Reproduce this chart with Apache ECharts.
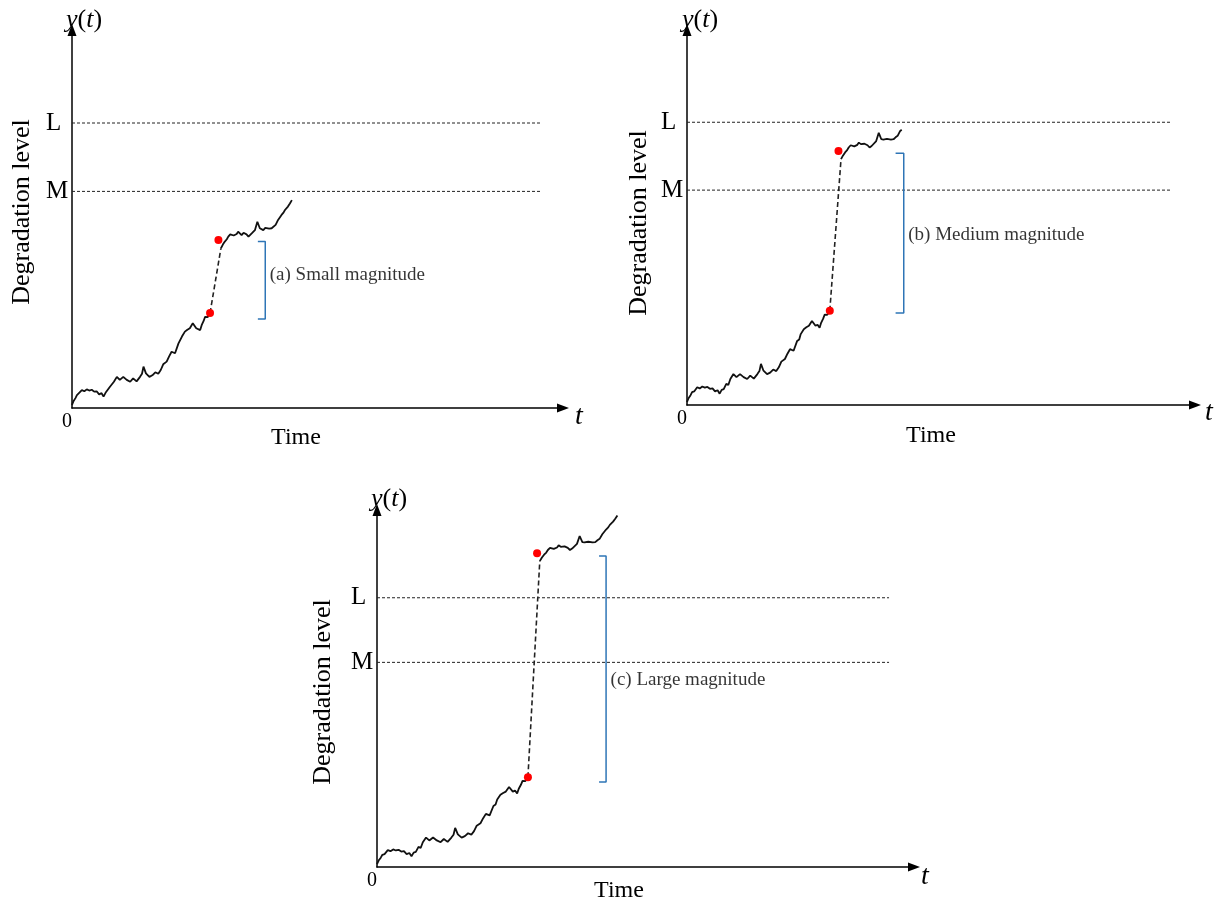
<!DOCTYPE html>
<html>
<head>
<meta charset="utf-8">
<title>Degradation level with jumps</title>
<script src="https://cdn.jsdelivr.net/npm/echarts@6/dist/echarts.min.js"></script>
<style>
  html, body { margin: 0; padding: 0; background: #fff; }
  #chart { width: 1217px; height: 903px; }
</style>
</head>
<body>
<div id="chart"></div>
<script>
// threshold levels (y) and their names
var levelValues = [57, 75]
var levelNames = ['M', 'L']
var levelEnd = 95

// degradation path before the jump (same in all panels)
var preX = [0.0, 0.3, 0.7, 1.0, 1.4, 2.0, 2.5, 3.0, 3.5, 4.0, 4.5, 5.0, 5.5, 6.0, 6.4, 6.8, 7.2, 7.7, 8.1, 8.5,
  9.1, 9.7, 10.4, 11.1, 11.4, 11.8, 12.4, 13.1, 13.8, 14.2, 14.5, 15.0, 15.7, 16.3, 16.9, 17.5, 18.0, 18.5, 19.2, 19.7,
  20.2, 20.9, 21.6, 22.0, 22.3, 22.9, 23.4, 23.9, 24.5, 25.2, 25.6, 26.0, 26.3, 26.7, 27.0, 27.5, 28.0]
var preY = [0.8, 1.8, 2.6, 3.4, 3.6, 4.7, 4.4, 4.9, 4.6, 4.8, 4.3, 4.4, 3.6, 3.9, 3.0, 4.0, 4.2, 5.6, 5.3, 6.9,
  8.2, 7.4, 8.2, 7.4, 7.9, 6.9, 7.8, 7.0, 8.2, 9.0, 10.9, 9.1, 8.2, 8.6, 9.4, 9.0, 10.0, 11.5, 12.2, 13.6,
  14.8, 14.4, 17.0, 17.4, 18.8, 20.1, 20.6, 21.0, 22.3, 21.0, 21.3, 20.5, 21.8, 22.9, 24.0, 23.9, 25.0]

// path after the jump, y measured from the top of the jump
var postX = [30.2, 30.6, 31.0, 31.4, 31.7, 32.1, 32.4, 32.8, 33.1, 33.4, 33.7, 34.1, 34.4, 34.8, 35.1, 35.4, 35.8,
  36.2, 36.5, 37.1, 37.6, 38.1, 38.5, 38.8, 39.2, 39.5, 40.0, 40.5, 40.9, 41.3, 41.8, 42.1, 42.5, 42.9, 43.2, 43.5, 43.8, 44.2, 44.6]
var postDy = [-2.2, -1.2, -0.4, 0.2, 0.9, 1.5, 1.8, 1.2, 0.9, 1.6, 2.2, 1.8, 1.3, 1.9, 2.2, 1.5, 0.9,
  1.3, 1.8, 2.6, 4.8, 3.1, 3.0, 2.6, 3.2, 3.5, 3.0, 3.1, 3.6, 4.0, 5.3, 5.6, 6.6, 7.2, 7.9, 8.2, 8.8, 9.6, 10.5]

// per panel values
var panelNames = ['(a) Small magnitude', '(b) Medium magnitude', '(c) Large magnitude']
var jumpFromX = 28.0
var jumpToX = 29.7
var jumpTop = [44.2, 67.4, 87.4]
var postEnd = [44.6, 42.4, 45.1]
var bracketX = [39.2, 42.5, 42.5]
var bracketLow = [23.4, 24.4, 23.7]
var bracketHigh = [43.8, 66.8, 86.6]
var labelY = [35.0, 45.1, 52.1]

// panel placement on the page
var layout = [
  { left: 72, top: 28, width: 493, height: 380, tick: 1.5, yt: [84, 20], t: [579, 417], time: [296, 438], deg: [22, 212] },
  { left: 687, top: 28, width: 510, height: 377, tick: 1.6, yt: [700, 20], t: [1209, 413], time: [931, 436], deg: [639, 223] },
  { left: 377, top: 508, width: 539, height: 359, tick: 1.3, yt: [389, 499], t: [925, 877], time: [619, 891], deg: [323, 692] }
]

var serif = "'Liberation Serif', 'Times New Roman', serif"
var chart = echarts.init(document.getElementById('chart'))

var grids = [], xAxes = [], yAxes = [], series = [], graphics = []

function pairs(xs, ys) {
  var out = []
  for (var k = 0; k < xs.length; k++) out.push([xs[k], ys[k]])
  return out
}

var axisLineStyle = {
  show: true,
  symbol: ['none', 'triangle'],
  symbolSize: [9, 12],
  symbolOffset: [0, -2],
  lineStyle: { color: '#000', width: 1.5 }
}

layout.forEach(function (p, i) {
  grids.push({ left: p.left, top: p.top, width: p.width, height: p.height })

  xAxes.push({
    gridIndex: i, type: 'value', min: 0, max: 100, interval: 100,
    axisLine: axisLineStyle,
    axisTick: { show: false },
    splitLine: { show: false },
    axisLabel: {
      margin: 4, align: 'right', fontFamily: serif, fontSize: 20, color: '#000',
      formatter: function (v) { return v === 0 ? '0' : '' }
    }
  })

  yAxes.push({
    gridIndex: i, type: 'value', min: 0, max: 100, interval: 1,
    axisLine: axisLineStyle,
    axisTick: { show: false },
    splitLine: { show: false },
    axisLabel: {
      margin: 26, align: 'left', fontFamily: serif, fontSize: 25, color: '#000',
      formatter: function (v) {
        var k = levelValues.indexOf(v)
        return k >= 0 ? levelNames[k] : ''
      }
    }
  })

  // dashed threshold lines
  levelValues.forEach(function (lv) {
    series.push({
      type: 'line', xAxisIndex: i, yAxisIndex: i, symbol: 'none', silent: true,
      lineStyle: { color: '#222', width: 1, type: [3, 2] },
      data: [[0, lv], [levelEnd, lv]]
    })
  })

  // path before the jump
  series.push({
    type: 'line', xAxisIndex: i, yAxisIndex: i, symbol: 'none', silent: true,
    lineStyle: { color: '#111', width: 1.8 },
    data: pairs(preX, preY)
  })

  // path after the jump
  var post = []
  for (var k = 0; k < postX.length; k++) {
    if (postX[k] <= postEnd[i] + 0.01) post.push([postX[k], jumpTop[i] + postDy[k]])
  }
  series.push({
    type: 'line', xAxisIndex: i, yAxisIndex: i, symbol: 'none', silent: true,
    lineStyle: { color: '#111', width: 1.8 },
    data: post
  })

  // the jump itself
  series.push({
    type: 'line', xAxisIndex: i, yAxisIndex: i, symbol: 'none', silent: true,
    lineStyle: { color: '#222', width: 1.6, type: [5, 3] },
    data: [[jumpFromX, preY[preY.length - 1]], post[0]]
  })

  // red points at both ends of the jump
  series.push({
    type: 'scatter', xAxisIndex: i, yAxisIndex: i, silent: true, z: 5,
    symbolSize: 8, itemStyle: { color: '#ff0000', opacity: 1 },
    data: [[jumpFromX, preY[preY.length - 1]], [jumpToX, jumpTop[i]]]
  })

  // blue bracket showing the magnitude
  series.push({
    type: 'line', xAxisIndex: i, yAxisIndex: i, symbol: 'none', silent: true,
    lineStyle: { color: '#2e75b6', width: 1.5 },
    data: [[bracketX[i] - p.tick, bracketHigh[i]], [bracketX[i], bracketHigh[i]],
           [bracketX[i], bracketLow[i]], [bracketX[i] - p.tick, bracketLow[i]]]
  })

  // bracket caption
  series.push({
    type: 'scatter', xAxisIndex: i, yAxisIndex: i, silent: true, z: 1,
    symbol: 'circle', symbolSize: 1, itemStyle: { color: '#ffffff' },
    label: {
      show: true, position: 'right', distance: 4,
      fontFamily: serif, fontSize: 19, color: '#000', textBorderWidth: 0,
      formatter: panelNames[i]
    },
    data: [[bracketX[i], labelY[i]]]
  })

  // axis titles
  graphics.push({
    type: 'text', x: p.yt[0], y: p.yt[1],
    style: {
      text: '{i|y}{r|(}{i|t}{r|)}', align: 'center', verticalAlign: 'middle',
      rich: {
        i: { fontFamily: serif, fontStyle: 'italic', fontSize: 26, fill: '#000' },
        r: { fontFamily: serif, fontSize: 26, fill: '#000' }
      }
    }
  })
  graphics.push({
    type: 'text', x: p.t[0], y: p.t[1],
    style: { text: 't', align: 'center', verticalAlign: 'middle', font: 'italic 28px ' + serif, fill: '#000' }
  })
  graphics.push({
    type: 'text', x: p.time[0], y: p.time[1],
    style: { text: 'Time', align: 'center', verticalAlign: 'middle', font: '24px ' + serif, fill: '#000' }
  })
  graphics.push({
    type: 'text', x: p.deg[0], y: p.deg[1], rotation: Math.PI / 2,
    style: { text: 'Degradation level', align: 'center', verticalAlign: 'middle', font: '26px ' + serif, fill: '#000' }
  })
})

chart.setOption({
  animation: false,
  backgroundColor: '#fff',
  grid: grids,
  xAxis: xAxes,
  yAxis: yAxes,
  series: series,
  graphic: graphics
})
</script>
</body>
</html>
